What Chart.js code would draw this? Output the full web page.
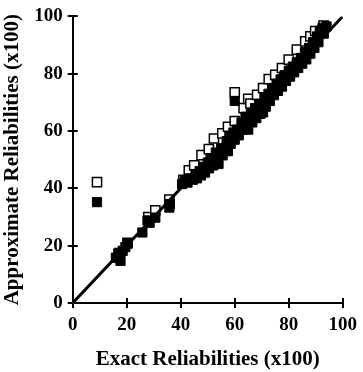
<!DOCTYPE html>
<html>
<head>
<meta charset="utf-8">
<script src="https://cdn.jsdelivr.net/npm/chart.js@4.4.1/dist/chart.umd.min.js"></script>
<style>
  html, body { margin: 0; padding: 0; background: #fff; }
  #wrap { width: 363px; height: 372px; }
</style>
</head>
<body>
<div id="wrap"><canvas id="chart"></canvas></div>
<script>
// exact vs approximate reliabilities, both x100
const filledPoints = [
    [9, 35.2], [16, 15.8], [17.7, 14.7], [17, 17.5], [18.5, 18.2], [20.3, 20.7], [19.5, 19.5],
    [25.8, 24.6], [27.7, 28.8], [28.5, 28], [30.6, 29.8], [35.8, 33.3], [36, 34.5],
    [40.5, 41.5], [41.5, 42.5], [42.5, 42], [43.5, 43.5], [44.5, 43], [45.5, 45], [46, 43.5],
    [47, 46], [47.5, 44.5], [48.5, 47.5], [49, 45.5], [50, 49], [50.5, 47], [51.5, 50.5],
    [52, 48], [53, 52.5], [53.5, 50], [54, 48.5], [55, 54], [55.5, 51.5], [56.5, 53],
    [57.5, 53], [57, 56.5], [58, 58], [58.5, 55.5], [59.5, 59.5], [60, 57], [60, 70.5],
    [61, 60.5], [61.5, 58.5], [62.5, 63], [63, 60.5], [64, 65], [64.5, 62], [65, 60.5],
    [66, 66], [66.5, 63], [67.5, 68], [68, 64.5], [69, 69.5], [69.5, 66], [70.5, 66.5],
    [71, 71.5], [71.5, 68.5], [72.5, 73], [73, 70.5], [74, 75], [74.5, 72.5], [75.5, 76.5],
    [76, 74], [77, 78], [77.5, 75.5], [78.5, 79.5], [79, 77.5], [80, 81], [80.5, 79],
    [81.5, 82.5], [82, 80.5], [83, 84], [83.5, 82], [84.5, 85.5], [85, 83.5], [86, 87.5],
    [86.5, 85], [87.5, 89], [88, 87], [89, 91], [89.5, 89], [90.5, 93], [91, 91],
    [91.5, 95], [92.5, 96], [93, 94], [94, 96.5]
];
const openPoints = [
    [9, 42.2], [17, 17], [20.3, 21], [28, 30], [30.6, 32.3], [35.8, 36.1],
    [41, 43], [43, 46.3], [45, 48], [47.7, 51.6], [50.4, 53.7], [52.3, 57.4], [55.4, 59.2],
    [57.5, 61.5], [60, 63.5], [60, 73.5], [63.3, 68], [65, 71.2], [65.8, 69.6], [68.3, 72.6],
    [70.5, 75], [72.6, 78.1], [75, 79.6], [77.5, 82], [80, 84.9], [83, 88.4], [86.1, 91.3],
    [88, 93], [89.8, 94.9], [92.9, 96.8]
];
const identityLine = [[0, 0], [100, 100]];
const tickValues = [0, 20, 40, 60, 80, 100];

const toXY = (pts) => pts.map(([x, y]) => ({ x, y }));

// ticks in the reference cross the axis, so draw the inner half by hand
const innerTicks = {
    id: 'innerTicks',
    afterDraw(chart) {
        const { ctx, chartArea, scales } = chart;
        ctx.save();
        ctx.strokeStyle = '#000';
        ctx.lineWidth = 2;
        ctx.beginPath();
        tickValues.forEach((v) => {
            const px = Math.round(scales.x.getPixelForValue(v));
            ctx.moveTo(px, chartArea.bottom);
            ctx.lineTo(px, chartArea.bottom - 5);
            const py = Math.round(scales.y.getPixelForValue(v));
            ctx.moveTo(chartArea.left, py);
            ctx.lineTo(chartArea.left + 5, py);
        });
        ctx.stroke();
        ctx.restore();
    },
};

const tickFont = { family: 'Liberation Serif', size: 19, weight: 'bold' };
const titleFont = { family: 'Liberation Serif', size: 21, weight: 'bold' };

new Chart(document.getElementById('chart').getContext('2d'), {
    type: 'scatter',
    data: {
        datasets: [
            {
                label: 'Filled',
                data: toXY(filledPoints),
                pointStyle: 'rect',
                pointRadius: 6.5,
                backgroundColor: '#000',
                borderColor: '#000',
                borderWidth: 1,
            },
            {
                label: 'Line',
                data: toXY(identityLine),
                showLine: true,
                pointRadius: 0,
                borderColor: '#000',
                borderWidth: 3,
            },
            {
                label: 'Open',
                data: toXY(openPoints),
                pointStyle: 'rect',
                pointRadius: 6.5,
                backgroundColor: '#fff',
                borderColor: '#000',
                borderWidth: 1.5,
            },
        ],
    },
    options: {
        responsive: true,
        maintainAspectRatio: false,
        animation: false,
        layout: { padding: { top: 10, right: 12, left: 0, bottom: 0 } },
        scales: {
            x: {
                type: 'linear',
                min: 0,
                max: 100,
                afterBuildTicks(scale) {
                    scale.ticks = tickValues.map((value) => ({ value }));
                },
                grid: { drawOnChartArea: false, color: '#000', lineWidth: 2, tickLength: 5 },
                border: { color: '#000', width: 2 },
                ticks: { color: '#000', font: tickFont, padding: 6, maxRotation: 0 },
                title: {
                    display: true,
                    text: 'Exact Reliabilities (x100)',
                    color: '#000',
                    font: titleFont,
                    padding: { top: 4, bottom: 0 },
                },
            },
            y: {
                type: 'linear',
                min: 0,
                max: 100,
                afterBuildTicks(scale) {
                    scale.ticks = tickValues.map((value) => ({ value }));
                },
                grid: { drawOnChartArea: false, color: '#000', lineWidth: 2, tickLength: 5 },
                border: { color: '#000', width: 2 },
                ticks: { color: '#000', font: tickFont, padding: 5 },
                title: {
                    display: true,
                    text: 'Approximate Reliabilities (x100)',
                    color: '#000',
                    font: titleFont,
                    padding: { top: 0, bottom: 4 },
                },
            },
        },
        plugins: {
            legend: { display: false },
            tooltip: { enabled: false },
        },
    },
    plugins: [innerTicks],
});
</script>
</body>
</html>
